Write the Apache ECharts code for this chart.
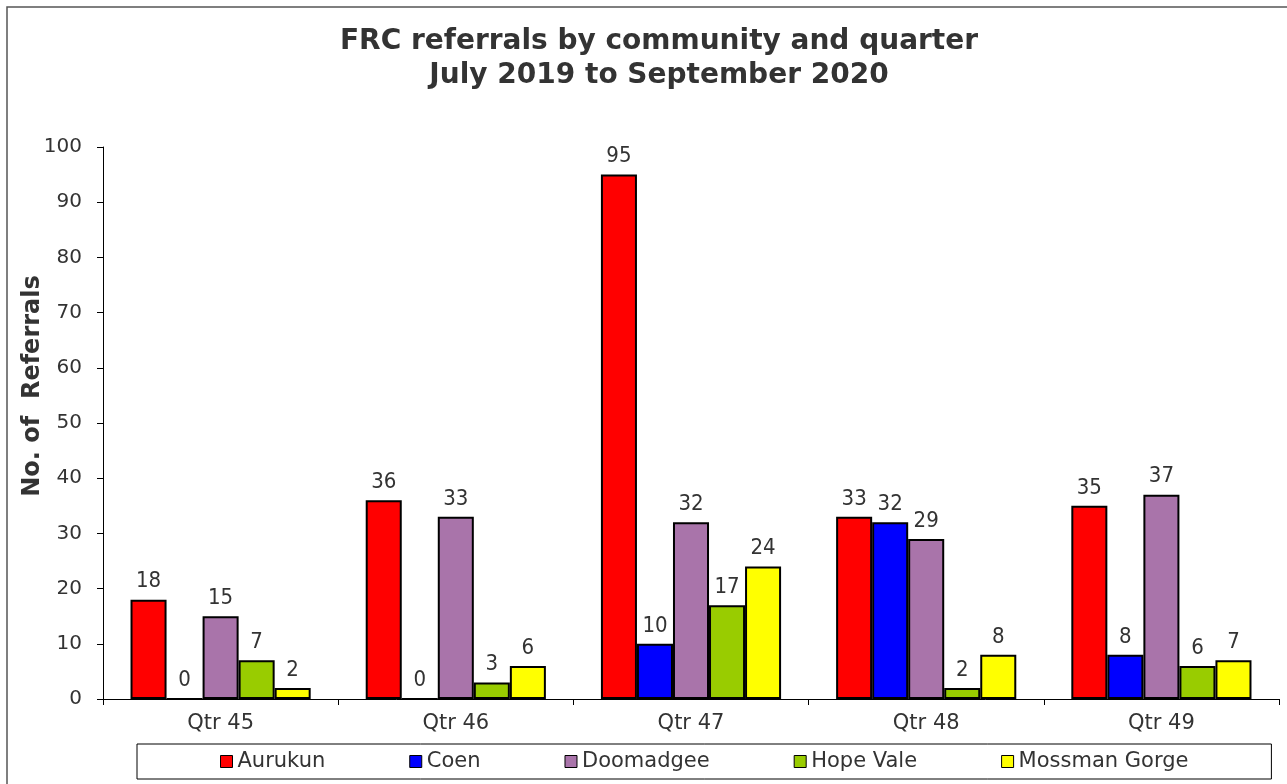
<!DOCTYPE html>
<html>
<head>
<meta charset="utf-8">
<script src="https://cdn.jsdelivr.net/npm/echarts@6/dist/echarts.min.js"></script>
<style>
  html, body { margin: 0; padding: 0; background: #fff; }
  #chart { width: 1287px; height: 784px; }
</style>
</head>
<body>
<div id="chart"></div>
<script>
// Quarter categories
const quarters = ['Qtr 45', 'Qtr 46', 'Qtr 47', 'Qtr 48', 'Qtr 49'];

// Referral counts per community
const aurukun = [18, 36, 95, 33, 35];
const coen = [0, 0, 10, 32, 8];
const doomadgee = [15, 33, 32, 29, 37];
const hopeVale = [7, 3, 17, 2, 6];
const mossmanGorge = [2, 6, 24, 8, 7];

const communities = ['Aurukun', 'Coen', 'Doomadgee', 'Hope Vale', 'Mossman Gorge'];
const palette = ['#FF0000', '#0000FF', '#A974AA', '#99CC00', '#FFFF00'];
const seriesValues = [aurukun, coen, doomadgee, hopeVale, mossmanGorge];

const FONT = '"DejaVu Sans", Verdana, sans-serif';
const FONT_NARROW = '"DejaVu Sans Condensed", "DejaVu Sans", sans-serif';
const TEXT = '#333333';

const chart = echarts.init(document.getElementById('chart'));

chart.setOption({
  animation: false,
  backgroundColor: '#ffffff',
  graphic: [{
    type: 'rect',
    shape: { x: 7, y: 7, width: 1320, height: 820 },
    style: { fill: 'none', stroke: '#555555', lineWidth: 1.5 },
    silent: true
  }, {
    // vertical axis title
    type: 'text',
    x: 33,
    y: 386,
    rotation: Math.PI / 2,
    style: {
      text: 'No. of  Referrals',
      fontFamily: FONT,
      fontSize: 24,
      fontWeight: 'bold',
      fill: TEXT,
      align: 'center',
      verticalAlign: 'middle'
    },
    silent: true
  }],
  title: {
    text: 'FRC referrals by community and quarter\nJuly 2019 to September 2020',
    left: 659,
    top: 25,
    textAlign: 'center',
    padding: 0,
    textStyle: {
      fontFamily: FONT,
      fontSize: 28,
      fontWeight: 'bold',
      color: TEXT,
      lineHeight: 34
    }
  },
  legend: {
    data: communities,
    left: 137,
    top: 744,
    orient: 'horizontal',
    padding: [7, 83, 7, 83],
    itemGap: 84,
    itemWidth: 12,
    itemHeight: 12,
    icon: 'rect',
    borderColor: '#000000',
    borderWidth: 1,
    itemStyle: { borderColor: '#000000', borderWidth: 1 },
    textStyle: { fontFamily: FONT, fontSize: 21, color: TEXT }
  },
  grid: {
    left: 103,
    right: 8,
    top: 147,
    bottom: 85,
    containLabel: false
  },
  xAxis: {
    type: 'category',
    data: quarters,
    boundaryGap: true,
    axisLine: { lineStyle: { color: '#000000', width: 1 } },
    axisTick: { show: true, length: 6, lineStyle: { color: '#000000' } },
    axisLabel: { fontFamily: FONT, fontSize: 21, color: TEXT, margin: 14 },
    splitLine: { show: false }
  },
  yAxis: {
    type: 'value',
    min: 0,
    max: 100,
    interval: 10,
    axisLine: { show: true, lineStyle: { color: '#000000', width: 1 } },
    axisTick: { show: true, length: 6, lineStyle: { color: '#000000' } },
    axisLabel: { fontFamily: FONT, fontSize: 20, color: TEXT, margin: 21 },
    splitLine: { show: false }
  },
  series: communities.map((name, i) => ({
    name: name,
    type: 'bar',
    data: seriesValues[i],
    barGap: '0%',
    barCategoryGap: '23.4%',
    itemStyle: { color: palette[i], borderColor: '#000000', borderWidth: 2 },
    label: {
      show: true,
      position: 'top',
      distance: 7,
      fontFamily: FONT_NARROW,
      fontSize: 22,
      color: TEXT
    }
  }))
});
</script>
</body>
</html>
